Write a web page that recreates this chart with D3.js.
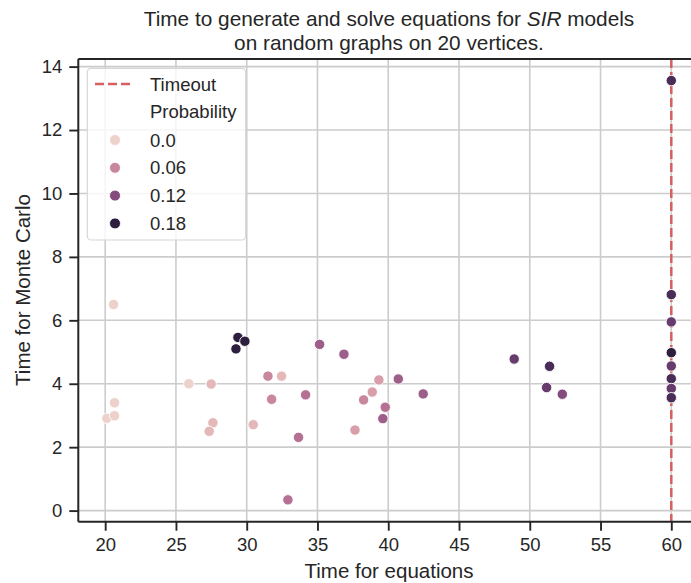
<!DOCTYPE html>
<html>
<head>
<meta charset="utf-8">
<script src="https://d3js.org/d3.v7.min.js"></script>
<style>
 body {margin:0; background:#fff;}
 svg {display:block; font-family:"Liberation Sans", Arial, sans-serif;}
</style>
</head>
<body>
<div id="chart"></div>
<script>
// time to generate + solve the equations (x) and time for Monte Carlo (y)
var eqTime = [20.59, 20.66, 20.12, 20.66, 25.91, 27.49, 27.61, 27.35, 30.46,
              29.38, 29.87, 29.24, 31.50, 32.46, 31.76, 33.66, 32.91,
              35.15, 36.87, 34.16, 39.34, 40.71, 38.87, 38.26, 39.79, 39.62, 37.65, 42.47,
              48.90, 51.40, 51.19, 52.30,
              60, 60, 60, 60, 60, 60, 60, 60];
var mcTime = [6.50, 3.40, 2.91, 2.99, 4.00, 3.99, 2.77, 2.50, 2.71,
              5.46, 5.34, 5.10, 4.24, 4.24, 3.51, 2.31, 0.34,
              5.24, 4.93, 3.65, 4.12, 4.15, 3.74, 3.49, 3.26, 2.90, 2.54, 3.68,
              4.78, 4.55, 3.88, 3.67,
              13.56, 6.81, 5.95, 4.98, 4.56, 4.16, 3.85, 3.56];
var prob   = [0, 0, 0, 0, 0, 0.02, 0.02, 0.02, 0.02,
              0.18, 0.18, 0.18, 0.06, 0.02, 0.06, 0.08, 0.08,
              0.10, 0.10, 0.08, 0.04, 0.10, 0.04, 0.06, 0.08, 0.10, 0.04, 0.10,
              0.14, 0.16, 0.14, 0.12,
              0.16, 0.16, 0.14, 0.18, 0.14, 0.16, 0.14, 0.16];
var timeout = 60;
var legendLevels = [0, 0.06, 0.12, 0.18];
var legendLabels = ["0.0", "0.06", "0.12", "0.18"];
var xTicks = [20, 25, 30, 35, 40, 45, 50, 55, 60];
var yTicks = [0, 2, 4, 6, 8, 10, 12, 14];

var width = 691, height = 583;
var svg = d3.select("#chart").append("svg").attr("width", width).attr("height", height);

var x = d3.scaleLinear().domain([18.1, 62.0]).range([78.3, 699.6]);
var y = d3.scaleLinear().domain([-0.35, 14.24]).range([521.7, 59]);

// seaborn's default cubehelix ramp (light .85 -> dark .15)
function cubehelix(t) {
  var l = 0.85 + (0.15 - 0.85) * t;
  var a = 0.8 * l * (1 - l) / 2;
  var phi = 2 * Math.PI * (0 + 0.4 * l);
  var c = Math.cos(phi), s = Math.sin(phi);
  var r = l + a * (-0.14861 * c + 1.78277 * s);
  var g = l + a * (-0.29227 * c - 0.90649 * s);
  var b = l + a * (1.97294 * c);
  var f = v => Math.round(255 * Math.max(0, Math.min(1, v)));
  return d3.rgb(f(r), f(g), f(b));
}
var hue = d3.scaleLinear().domain([0, 0.18]).range([0, 1]);
var color = p => cubehelix(hue(p));

var data = eqTime.map((d, i) => ({x: d, y: mcTime[i], p: prob[i]}));

svg.append("defs").append("clipPath").attr("id", "clip")
  .append("rect").attr("x", 78.3).attr("y", 59).attr("width", 621).attr("height", 462.7);

// grid
var grid = svg.append("g").attr("stroke", "#cccccc").attr("stroke-width", 1.6);
grid.selectAll(".gx").data(xTicks).join("line")
  .attr("x1", d => x(d)).attr("x2", d => x(d)).attr("y1", 59).attr("y2", 521.7);
grid.selectAll(".gy").data(yTicks).join("line")
  .attr("y1", d => y(d)).attr("y2", d => y(d)).attr("x1", 78.3).attr("x2", 699.6);

// timeout line
svg.append("line")
  .attr("x1", x(timeout)).attr("x2", x(timeout)).attr("y1", 59).attr("y2", 521.7)
  .attr("stroke", "#d65f5f").attr("stroke-width", 2.5).attr("stroke-dasharray", "9,4");

// points
svg.append("g").attr("clip-path", "url(#clip)")
  .selectAll("circle").data(data).join("circle")
  .attr("cx", d => x(d.x)).attr("cy", d => y(d.y)).attr("r", 5.2)
  .attr("fill", d => color(d.p)).attr("stroke", "#fff").attr("stroke-width", 0.9);

// axes
var xAxis = svg.append("g").attr("transform", "translate(0,521.7)")
  .call(d3.axisBottom(x).tickValues(xTicks).tickSize(9).tickPadding(7));
var yAxis = svg.append("g").attr("transform", "translate(78.3,0)")
  .call(d3.axisLeft(y).tickValues(yTicks).tickSize(9).tickPadding(7));
[xAxis, yAxis].forEach(function (g) {
  g.select(".domain").remove();
  g.selectAll("line").attr("stroke", "#262626").attr("stroke-width", 1.9);
  g.selectAll("text").attr("fill", "#262626").style("font-size", "18.5px")
    .style("font-family", "Liberation Sans, Arial, sans-serif");
});
// spines
svg.append("line").attr("x1", 78.3).attr("x2", 78.3).attr("y1", 59).attr("y2", 521.7)
  .attr("stroke", "#262626").attr("stroke-width", 2);
svg.append("line").attr("x1", 78.3).attr("x2", 700).attr("y1", 521.7).attr("y2", 521.7)
  .attr("stroke", "#262626").attr("stroke-width", 2);
svg.append("line").attr("x1", 78.3).attr("x2", 700).attr("y1", 59).attr("y2", 59)
  .attr("stroke", "#262626").attr("stroke-width", 2);

// labels
svg.append("text").attr("x", 389).attr("y", 578).attr("text-anchor", "middle")
  .attr("fill", "#262626").style("font-size", "20.5px").text("Time for equations");
svg.append("text").attr("transform", "translate(30,290) rotate(-90)").attr("text-anchor", "middle")
  .attr("fill", "#262626").style("font-size", "20.5px").text("Time for Monte Carlo");

var title = svg.append("text").attr("x", 389).attr("text-anchor", "middle")
  .attr("fill", "#262626").style("font-size", "20.8px");
var t1 = title.append("tspan").attr("x", 389).attr("y", 26);
t1.append("tspan").text("Time to generate and solve equations for ");
t1.append("tspan").style("font-style", "italic").text("SIR");
t1.append("tspan").text(" models");
title.append("tspan").attr("x", 389).attr("y", 50).text("on random graphs on 20 vertices.");

// legend
var lg = svg.append("g");
lg.append("rect").attr("x", 87.3).attr("y", 68.3).attr("width", 158.4).attr("height", 171.7)
  .attr("rx", 4).attr("fill", "#fff").attr("fill-opacity", 0.8)
  .attr("stroke", "#d6d6d6").attr("stroke-width", 1.2);
lg.append("line").attr("x1", 95).attr("x2", 133).attr("y1", 84).attr("y2", 84)
  .attr("stroke", "#d65f5f").attr("stroke-width", 2.5).attr("stroke-dasharray", "9,4");
lg.append("text").attr("x", 150).attr("y", 90.5).attr("fill", "#262626")
  .style("font-size", "18.5px").text("Timeout");
lg.append("text").attr("x", 150).attr("y", 118).attr("fill", "#262626")
  .style("font-size", "18.5px").text("Probability");
var rows = lg.selectAll(".row").data(legendLevels).join("g")
  .attr("transform", (d, i) => "translate(0," + (140 + i * 27.8) + ")");
rows.append("circle").attr("cx", 115).attr("cy", 0).attr("r", 5.5)
  .attr("fill", d => color(d)).attr("stroke", "#fff").attr("stroke-width", 0.9);
rows.append("text").attr("x", 150).attr("y", 6.5).attr("fill", "#262626")
  .style("font-size", "18.5px").text((d, i) => legendLabels[i]);
</script>
</body>
</html>
